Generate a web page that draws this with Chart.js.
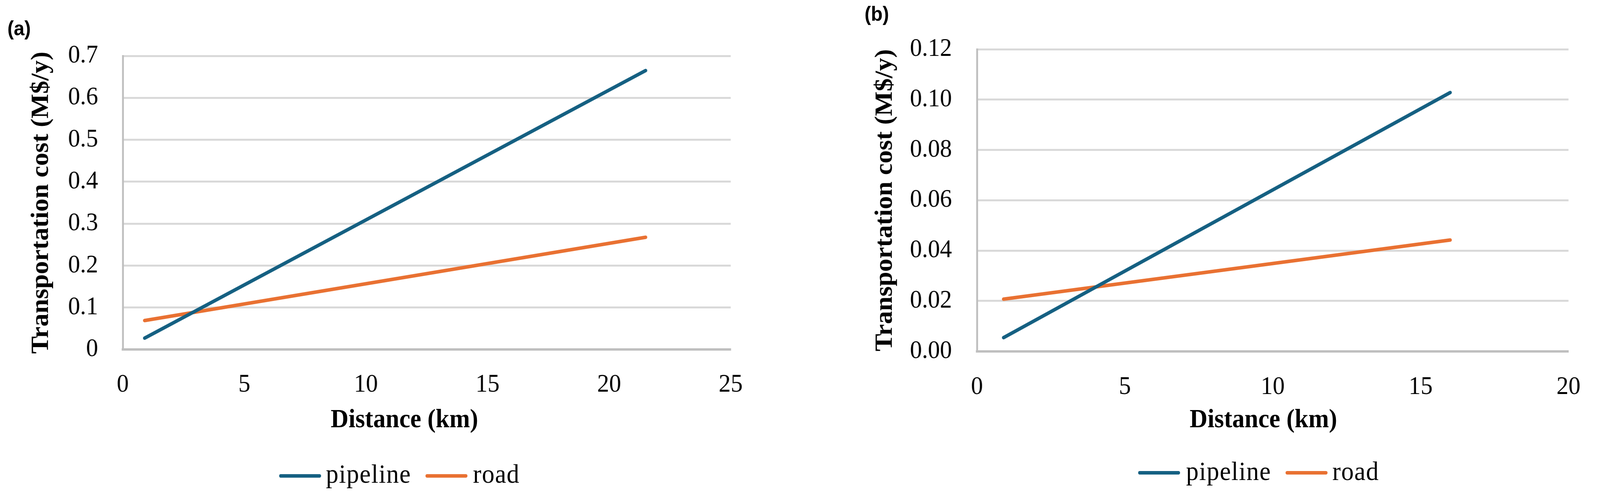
<!DOCTYPE html>
<html>
<head>
<meta charset="utf-8">
<script src="https://cdn.jsdelivr.net/npm/chart.js@4.4.1/dist/chart.umd.min.js"></script>
<style>
html,body{margin:0;padding:0;background:#fff;overflow:hidden;}
#page{position:relative;width:4340px;height:1274px;overflow:hidden;background:#fff;transform-origin:0 0;}
.box{position:absolute;top:0;width:2170px;height:1274px;}
.panel{position:absolute;font-family:'Liberation Sans',Arial,sans-serif;font-weight:bold;font-size:52px;line-height:1;color:#000;}
.lt{position:absolute;white-space:nowrap;font-family:'Liberation Serif','Times New Roman',serif;font-size:68px;line-height:1;letter-spacing:1.5px;color:#000;}
.sw{position:absolute;width:114px;height:9px;border-radius:4.5px;}
.xt{position:absolute;white-space:nowrap;font-family:'Liberation Serif','Times New Roman',serif;font-weight:bold;font-size:67px;line-height:1;color:#000;transform:translateX(-50%);}
</style>
</head>
<body>
<div id="page">
  <div class="box" style="left:0"><canvas id="cA" width="2170" height="1274"></canvas></div>
  <div class="box" style="left:2170px"><canvas id="cB" width="2170" height="1274"></canvas></div>
  <div class="panel" style="left:20px;top:46px">(a)</div>
  <div class="panel" style="left:2345px;top:9px">(b)</div>
  <div id="labels"></div>
</div>
<script>
// ---- data ----
const seriesNames = ['pipeline', 'road'];
const distanceA = [0.9, 21.5];          // km
const pipelineA = [0.027, 0.665];       // M$/y
const roadA = [0.069, 0.2675];          // M$/y
const distanceB = [0.9, 16.0];          // km
const pipelineB = [0.0054, 0.1028];     // M$/y
const roadB = [0.0207, 0.0442];         // M$/y
const yTicksA = [0, 0.1, 0.2, 0.3, 0.4, 0.5, 0.6, 0.7];
const yTicksB = [0, 0.02, 0.04, 0.06, 0.08, 0.10, 0.12];
const xTicksA = [0, 5, 10, 15, 20, 25];
const xTicksB = [0, 5, 10, 15, 20];
const yTitle = 'Transportation cost (M$/y)';
const xTitle = 'Distance (km)';
const colors = ['#156082', '#E97132'];

// fit the 4340-wide design into the actual viewport
const sx = Math.min(1, window.innerWidth / 4340);
const sy = Math.min(1, window.innerHeight / 1274);
document.getElementById('page').style.transform = 'scale(' + sx + ',' + sy + ')';

const host = document.getElementById('labels');
// x-axis titles (HTML text, centred like the reference)
function addXTitle(cx, top) {
  const t = document.createElement('div');
  t.className = 'xt';
  t.style.left = cx + 'px';
  t.style.top = top + 'px';
  t.textContent = xTitle;
  host.appendChild(t);
}
addXTitle(1097, 1037);
addXTitle(3427, 1037);

// HTML legends (real text)
function addLegend(swX, txtX, swY, txtTop) {
  seriesNames.forEach((name, i) => {
    const sw = document.createElement('div');
    sw.className = 'sw';
    sw.style.left = swX[i] + 'px';
    sw.style.top = (swY - 4.5) + 'px';
    sw.style.background = colors[i];
    host.appendChild(sw);
    const t = document.createElement('div');
    t.className = 'lt';
    t.style.left = txtX[i] + 'px';
    t.style.top = txtTop + 'px';
    t.textContent = name;
    host.appendChild(t);
  });
}
addLegend([757, 1154], [884, 1283], 1217, 1178);
addLegend([3087, 3487], [3217, 3614], 1209, 1171);

Chart.defaults.font.family = "'Liberation Serif','Times New Roman',serif";
Chart.defaults.color = '#000';

function pts(xs, ys) { return xs.map((x, i) => ({x: x, y: ys[i]})); }

function makeChart(id, xs, pipe, road, yTicks, xTicks, decimals, geo) {
  const yStep = yTicks[1] - yTicks[0];
  const xStep = xTicks[1] - xTicks[0];
  new Chart(document.getElementById(id), {
    type: 'line',
    data: {
      datasets: [
        {label: seriesNames[0], data: pts(xs, pipe), borderColor: colors[0], backgroundColor: colors[0],
         borderWidth: 9, borderCapStyle: 'round', pointRadius: 0, tension: 0},
        {label: seriesNames[1], data: pts(xs, road), borderColor: colors[1], backgroundColor: colors[1],
         borderWidth: 9, borderCapStyle: 'round', pointRadius: 0, tension: 0}
      ]
    },
    options: {
      responsive: false,
      animation: false,
      events: [],
      layout: {padding: {left: 0, top: geo.top, right: geo.right, bottom: 0}},
      plugins: {legend: {display: false}, tooltip: {enabled: false}},
      scales: {
        x: {
          type: 'linear', min: xTicks[0], max: xTicks[xTicks.length - 1],
          ticks: {stepSize: xStep, padding: geo.xTickPad, font: {size: 65}, color: '#000', maxRotation: 0,
                  callback: v => String(v)},
          grid: {display: false, drawTicks: false},
          border: {display: true, color: '#bfbfbf', width: 6},
          title: {display: false},
          afterFit: s => { s.height = geo.xHeight; }
        },
        y: {
          min: yTicks[0], max: yTicks[yTicks.length - 1],
          ticks: {stepSize: yStep, padding: geo.yTickPad, font: {size: 65}, color: '#000',
                  callback: v => decimals ? Number(v).toFixed(decimals) : String(Math.round(v * 10) / 10)},
          grid: {color: c => (c.tick && Math.abs(c.tick.value) < 1e-9) ? 'rgba(0,0,0,0)' : '#d9d9d9',
                 lineWidth: 5, drawTicks: false},
          border: {display: true, color: '#bfbfbf', width: 5},
          title: {display: true, text: yTitle, color: '#000', font: {size: 67, weight: 'bold'},
                  padding: {top: geo.yTitlePad, bottom: 0}},
          afterFit: s => { s.width = geo.yWidth; }
        }
      }
    }
  });
}

makeChart('cA', distanceA, pipelineA, roadA, yTicksA, xTicksA, 0,
  {top: 143, right: 188, yWidth: 333, xHeight: 380, yTickPad: 67, xTickPad: 52, yTitlePad: 72.8});
makeChart('cB', distanceB, pipelineB, roadB, yTicksB, xTicksB, 2,
  {top: 126, right: 59, yWidth: 480, xHeight: 375.5, yTickPad: 68, xTickPad: 53, yTitlePad: 191.8});
</script>
</body>
</html>
